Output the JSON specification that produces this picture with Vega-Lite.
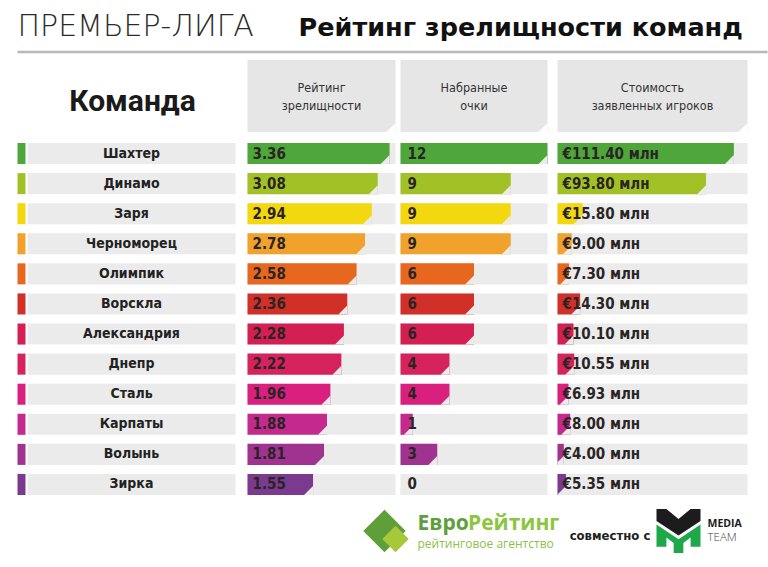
{
  "$schema": "https://vega.github.io/schema/vega-lite/v6.json",
  "padding": {"left": 15.5, "top": 5, "right": 0, "bottom": 0},
  "background": "white",
  "config": {"view": {"stroke": null}, "font": "DejaVu Sans Condensed, DejaVu Sans, sans-serif"},
  "datasets": {
    "teams": [
      {"team": "Шахтер", "rating": 3.36, "points": 12, "value": 111.40, "valueLabel": "€111.40 млн"},
      {"team": "Динамо", "rating": 3.08, "points": 9, "value": 93.80, "valueLabel": "€93.80 млн"},
      {"team": "Заря", "rating": 2.94, "points": 9, "value": 15.80, "valueLabel": "€15.80 млн"},
      {"team": "Черноморец", "rating": 2.78, "points": 9, "value": 9.00, "valueLabel": "€9.00 млн"},
      {"team": "Олимпик", "rating": 2.58, "points": 6, "value": 7.30, "valueLabel": "€7.30 млн"},
      {"team": "Ворскла", "rating": 2.36, "points": 6, "value": 14.30, "valueLabel": "€14.30 млн"},
      {"team": "Александрия", "rating": 2.28, "points": 6, "value": 10.10, "valueLabel": "€10.10 млн"},
      {"team": "Днепр", "rating": 2.22, "points": 4, "value": 10.55, "valueLabel": "€10.55 млн"},
      {"team": "Сталь", "rating": 1.96, "points": 4, "value": 6.93, "valueLabel": "€6.93 млн"},
      {"team": "Карпаты", "rating": 1.88, "points": 1, "value": 8.00, "valueLabel": "€8.00 млн"},
      {"team": "Волынь", "rating": 1.81, "points": 3, "value": 4.00, "valueLabel": "€4.00 млн"},
      {"team": "Зирка", "rating": 1.55, "points": 0, "value": 5.35, "valueLabel": "€5.35 млн"}
    ],
    "headers": [
      {"col": "rating", "label": ["Рейтинг", "зрелищности"]},
      {"col": "points", "label": ["Набранные", "очки"]},
      {"col": "value", "label": ["Стоимость", "заявленных игроков"]}
    ]
  },
  "spacing": 6,
  "vconcat": [
    {
      "width": 750, "height": 47,
      "layer": [
        {
          "data": {"values": [{"label": "ПРЕМЬЕР-ЛИГА"}]},
          "mark": {"type": "text", "align": "left", "baseline": "alphabetic", "font": "DejaVu Sans", "fontWeight": 200, "fontSize": 30, "fill": "#2a2a2a"},
          "encoding": {
            "x": {"datum": 0, "type": "quantitative", "scale": {"domain": [0, 1]}, "axis": null},
            "y": {"datum": 0.34, "type": "quantitative", "scale": {"domain": [0, 1]}, "axis": null},
            "text": {"field": "label"}
          }
        },
        {
          "data": {"values": [{"label": "Рейтинг зрелищности команд"}]},
          "mark": {"type": "text", "align": "left", "baseline": "alphabetic", "font": "DejaVu Sans", "fontWeight": "bold", "fontSize": 25.5, "fill": "#111111"},
          "encoding": {
            "x": {"datum": 0.3747, "type": "quantitative"},
            "y": {"datum": 0.34, "type": "quantitative"},
            "text": {"field": "label"}
          }
        },
        {
          "data": {"values": [{}]},
          "mark": {"type": "rule", "stroke": "#b8b8b8", "strokeWidth": 2.5},
          "encoding": {"y": {"datum": 0, "type": "quantitative"}}
        }
      ]
    },
    {
      "spacing": 10,
      "hconcat": [
        {
          "spacing": 12,
          "hconcat": [
            {
              "spacing": 6.5,
              "vconcat": [
                {
                  "width": 218, "height": 72,
                  "data": {"values": [{"label": "Команда"}]},
                  "mark": {"type": "text", "font": "Roboto", "fontWeight": "bold", "fontSize": 30, "fill": "#1a1a1a", "dx": 6, "dy": 6},
                  "encoding": {"text": {"field": "label"}}
                },
                {
                  "spacing": 2,
                  "hconcat": [
                    {
                      "width": 8, "height": 361,
                      "data": {"name": "teams"},
                      "mark": {"type": "rect"},
                      "encoding": {
                        "y": {"field": "team", "type": "nominal", "sort": null, "scale": {"paddingInner": 0.3, "paddingOuter": 0.15}, "axis": null},
                        "color": {"field": "team", "type": "nominal", "sort": null, "legend": null,
                          "scale": {"domain": ["Шахтер","Динамо","Заря","Черноморец","Олимпик","Ворскла","Александрия","Днепр","Сталь","Карпаты","Волынь","Зирка"],
                                    "range": ["#4fa63a","#a2c127","#f3d810","#f0a22c","#e8671e","#d03028","#d41f52","#d6235e","#d9207f","#c42a8e","#a0338f","#7a3b8f"]}}
                      }
                    },
                    {
                      "width": 208, "height": 361,
                      "data": {"name": "teams"},
                      "encoding": {
                        "y": {"field": "team", "type": "nominal", "sort": null, "scale": {"paddingInner": 0.3, "paddingOuter": 0.15}, "axis": null}
                      },
                      "layer": [
                        {"mark": {"type": "rect", "fill": "#ebebeb"}},
                        {"mark": {"type": "text", "fontWeight": "bold", "fontSize": 14, "fill": "#222222"}, "encoding": {"text": {"field": "team"}}}
                      ]
                    }
                  ]
                }
              ]
            },
            {
              "spacing": 5,
              "hconcat": [
                {
                  "spacing": 6.5,
                  "vconcat": [
                    {
                      "width": 148, "height": 72,
                      "data": {"name": "headers"},
                      "transform": [{"filter": "datum.col === 'rating'"}],
                      "layer": [
                        {"mark": {"type": "rect", "fill": "#e6e6e6"}, "encoding": {}},
                        {"mark": {"type": "point", "shape": "M1,0L1,1L0,1Z", "size": 324, "filled": true, "fill": "white", "opacity": 1, "strokeWidth": 0, "xOffset": -9, "yOffset": -9, "clip": true},
                         "encoding": {"x": {"datum": 1, "type": "quantitative", "scale": {"domain": [0, 1]}, "axis": null}, "y": {"datum": 0, "type": "quantitative", "scale": {"domain": [0, 1]}, "axis": null}}},
                        {"mark": {"type": "text", "fontSize": 12.5, "lineHeight": 18, "fill": "#333333", "dy": -8}, "encoding": {"text": {"field": "label"}}}
                      ]
                    },
                    {
                      "width": 148, "height": 361,
                      "data": {"name": "teams"},
                      "encoding": {
                        "y": {"field": "team", "type": "nominal", "sort": null, "scale": {"paddingInner": 0.3, "paddingOuter": 0.15}, "axis": null}
                      },
                      "layer": [
                        {"mark": {"type": "rect", "fill": "#ebebeb"}},
                        {"mark": {"type": "bar"},
                         "encoding": {
                           "x": {"field": "rating", "type": "quantitative", "scale": {"domain": [0, 3.4]}, "axis": null},
                           "color": {"field": "team", "type": "nominal", "sort": null, "legend": null,
                             "scale": {"domain": ["Шахтер","Динамо","Заря","Черноморец","Олимпик","Ворскла","Александрия","Днепр","Сталь","Карпаты","Волынь","Зирка"],
                                       "range": ["#4fa63a","#a2c127","#f3d810","#f0a22c","#e8671e","#d03028","#d41f52","#d6235e","#d9207f","#c42a8e","#a0338f","#7a3b8f"]}}
                         }},
                        {"mark": {"type": "point", "shape": "M1,0.15L1,1L0.15,1Z", "size": 443, "filled": true, "fill": "#ebebeb", "opacity": 1, "strokeWidth": 0, "xOffset": -10.52, "clip": true},
                         "encoding": {"x": {"field": "rating", "type": "quantitative"}}},
                        {"mark": {"type": "text", "align": "left", "dx": 5, "fontWeight": "bold", "fontSize": 15, "fill": "#2a2424"},
                         "encoding": {"x": {"datum": 0, "type": "quantitative"}, "text": {"field": "rating", "type": "quantitative", "format": ".2f"}}}
                      ]
                    }
                  ]
                },
                {
                  "spacing": 6.5,
                  "vconcat": [
                    {
                      "width": 147, "height": 72,
                      "data": {"name": "headers"},
                      "transform": [{"filter": "datum.col === 'points'"}],
                      "layer": [
                        {"mark": {"type": "rect", "fill": "#e6e6e6"}, "encoding": {}},
                        {"mark": {"type": "point", "shape": "M1,0L1,1L0,1Z", "size": 324, "filled": true, "fill": "white", "opacity": 1, "strokeWidth": 0, "xOffset": -9, "yOffset": -9, "clip": true},
                         "encoding": {"x": {"datum": 1, "type": "quantitative", "scale": {"domain": [0, 1]}, "axis": null}, "y": {"datum": 0, "type": "quantitative", "scale": {"domain": [0, 1]}, "axis": null}}},
                        {"mark": {"type": "text", "fontSize": 12.5, "lineHeight": 18, "fill": "#333333", "dy": -8}, "encoding": {"text": {"field": "label"}}}
                      ]
                    },
                    {
                      "width": 147, "height": 361,
                      "data": {"name": "teams"},
                      "encoding": {
                        "y": {"field": "team", "type": "nominal", "sort": null, "scale": {"paddingInner": 0.3, "paddingOuter": 0.15}, "axis": null}
                      },
                      "layer": [
                        {"mark": {"type": "rect", "fill": "#ebebeb"}},
                        {"mark": {"type": "bar"},
                         "encoding": {
                           "x": {"field": "points", "type": "quantitative", "scale": {"domain": [0, 12]}, "axis": null},
                           "color": {"field": "team", "type": "nominal", "sort": null, "legend": null,
                             "scale": {"domain": ["Шахтер","Динамо","Заря","Черноморец","Олимпик","Ворскла","Александрия","Днепр","Сталь","Карпаты","Волынь","Зирка"],
                                       "range": ["#4fa63a","#a2c127","#f3d810","#f0a22c","#e8671e","#d03028","#d41f52","#d6235e","#d9207f","#c42a8e","#a0338f","#7a3b8f"]}}
                         }},
                        {"mark": {"type": "point", "shape": "M1,0.15L1,1L0.15,1Z", "size": 443, "filled": true, "fill": "#ebebeb", "opacity": 1, "strokeWidth": 0, "xOffset": -10.52, "clip": true},
                         "encoding": {"x": {"field": "points", "type": "quantitative"}}},
                        {"mark": {"type": "text", "align": "left", "dx": 7, "fontWeight": "bold", "fontSize": 15, "fill": "#2a2424"},
                         "encoding": {"x": {"datum": 0, "type": "quantitative"}, "text": {"field": "points", "type": "quantitative"}}}
                      ]
                    }
                  ]
                }
              ]
            }
          ]
        },
        {
          "spacing": 6.5,
          "vconcat": [
            {
              "width": 190, "height": 72,
              "data": {"name": "headers"},
              "transform": [{"filter": "datum.col === 'value'"}],
              "layer": [
                {"mark": {"type": "rect", "fill": "#e6e6e6"}, "encoding": {}},
                {"mark": {"type": "point", "shape": "M1,0L1,1L0,1Z", "size": 324, "filled": true, "fill": "white", "opacity": 1, "strokeWidth": 0, "xOffset": -9, "yOffset": -9, "clip": true},
                 "encoding": {"x": {"datum": 1, "type": "quantitative", "scale": {"domain": [0, 1]}, "axis": null}, "y": {"datum": 0, "type": "quantitative", "scale": {"domain": [0, 1]}, "axis": null}}},
                {"mark": {"type": "text", "fontSize": 12.5, "lineHeight": 18, "fill": "#333333", "dy": -8}, "encoding": {"text": {"field": "label"}}}
              ]
            },
            {
              "width": 190, "height": 361,
              "data": {"name": "teams"},
              "encoding": {
                "y": {"field": "team", "type": "nominal", "sort": null, "scale": {"paddingInner": 0.3, "paddingOuter": 0.15}, "axis": null}
              },
              "layer": [
                {"mark": {"type": "rect", "fill": "#ebebeb"}},
                {"mark": {"type": "bar"},
                 "encoding": {
                   "x": {"field": "value", "type": "quantitative", "scale": {"domain": [0, 111.4]}, "axis": null},
                   "color": {"field": "team", "type": "nominal", "sort": null, "legend": null,
                     "scale": {"domain": ["Шахтер","Динамо","Заря","Черноморец","Олимпик","Ворскла","Александрия","Днепр","Сталь","Карпаты","Волынь","Зирка"],
                               "range": ["#4fa63a","#a2c127","#f3d810","#f0a22c","#e8671e","#d03028","#d41f52","#d6235e","#d9207f","#c42a8e","#a0338f","#7a3b8f"]}}
                 }},
                {"mark": {"type": "point", "shape": "M1,0.15L1,1L0.15,1Z", "size": 443, "filled": true, "fill": "#ebebeb", "opacity": 1, "strokeWidth": 0, "xOffset": -10.52, "clip": true},
                 "encoding": {"x": {"field": "value", "type": "quantitative"}}},
                {"mark": {"type": "text", "align": "left", "dx": 5, "fontWeight": "bold", "fontSize": 15, "fill": "#2a2424"},
                 "encoding": {"x": {"datum": 0, "type": "quantitative"}, "text": {"field": "valueLabel"}}}
              ]
            }
          ]
        }
      ]
    },
    {
      "spacing": 0,
      "hconcat": [
        {"width": 340, "height": 50, "data": {"values": [{}]}, "mark": {"type": "text", "text": ""}},
        {
          "width": 60, "height": 50,
          "data": {"values": [{}]},
          "layer": [
            {"mark": {"type": "point", "shape": "diamond", "size": 1800, "filled": true, "fill": "#5f9f3a", "opacity": 1, "strokeWidth": 0, "xOffset": -3}, "encoding": {}},
            {"mark": {"type": "point", "shape": "diamond", "size": 700, "filled": true, "fill": "#a6c93a", "opacity": 1, "strokeWidth": 0, "xOffset": 8, "yOffset": 8}, "encoding": {}}
          ]
        },
        {
          "width": 150, "height": 50,
          "data": {"values": [{}]},
          "layer": [
            {"mark": {"type": "text", "text": "Евро", "align": "left", "baseline": "alphabetic", "font": "Open Sans", "fontWeight": "bold", "fontSize": 21, "fill": "#5e9e3c"},
             "encoding": {"x": {"datum": 0, "type": "quantitative", "scale": {"domain": [0, 1]}, "axis": null}, "y": {"datum": 0.52, "type": "quantitative", "scale": {"domain": [0, 1]}, "axis": null}}},
            {"mark": {"type": "text", "text": "Рейтинг", "align": "left", "baseline": "alphabetic", "font": "Open Sans", "fontWeight": "bold", "fontSize": 21, "fill": "#8cc540", "dx": 50.5},
             "encoding": {"x": {"datum": 0, "type": "quantitative"}, "y": {"datum": 0.52, "type": "quantitative"}}},
            {"mark": {"type": "text", "text": "рейтинговое агентство", "align": "left", "baseline": "alphabetic", "font": "Open Sans", "fontSize": 12, "fill": "#8dbf4a"},
             "encoding": {"x": {"datum": 0, "type": "quantitative"}, "y": {"datum": 0.16, "type": "quantitative"}}}
          ]
        },
        {
          "width": 85, "height": 50,
          "data": {"values": [{}]},
          "mark": {"type": "text", "text": "совместно с", "fontWeight": "bold", "fontSize": 13, "fill": "#222222", "dy": 5},
          "encoding": {}
        },
        {
          "width": 52, "height": 50,
          "data": {"values": [{}]},
          "layer": [
            {"mark": {"type": "point", "shape": "M-1,-1L-0.55,-1L0,-0.55L0.55,-1L1,-1L1,-0.45L0,0.2L-1,-0.45Z", "size": 1936, "filled": true, "fill": "#1c1c1c", "opacity": 1, "strokeWidth": 0}, "encoding": {}},
            {"mark": {"type": "point", "shape": "M-1,-0.3L0,0.38L1,-0.3L1,0.72L0.55,0.72L0.55,0.3L0.22,0.55L0.22,1L-0.22,1L-0.22,0.55L-0.55,0.3L-0.55,0.72L-1,0.72Z", "size": 1936, "filled": true, "fill": "#1fa84a", "opacity": 1, "strokeWidth": 0}, "encoding": {}}
          ]
        },
        {
          "width": 45, "height": 50,
          "data": {"values": [{}]},
          "layer": [
            {"mark": {"type": "text", "text": "MEDIA", "align": "left", "baseline": "alphabetic", "font": "Open Sans", "fontWeight": "bold", "fontSize": 10.5, "fill": "#1c1c1c", "dx": 3},
             "encoding": {"x": {"datum": 0, "type": "quantitative", "scale": {"domain": [0, 1]}, "axis": null}, "y": {"datum": 0.58, "type": "quantitative", "scale": {"domain": [0, 1]}, "axis": null}}},
            {"mark": {"type": "text", "text": "TEAM", "align": "left", "baseline": "alphabetic", "font": "Open Sans", "fontWeight": 300, "fontSize": 11.5, "fill": "#444444", "dx": 3},
             "encoding": {"x": {"datum": 0, "type": "quantitative"}, "y": {"datum": 0.3, "type": "quantitative"}}}
          ]
        }
      ]
    }
  ]
}
